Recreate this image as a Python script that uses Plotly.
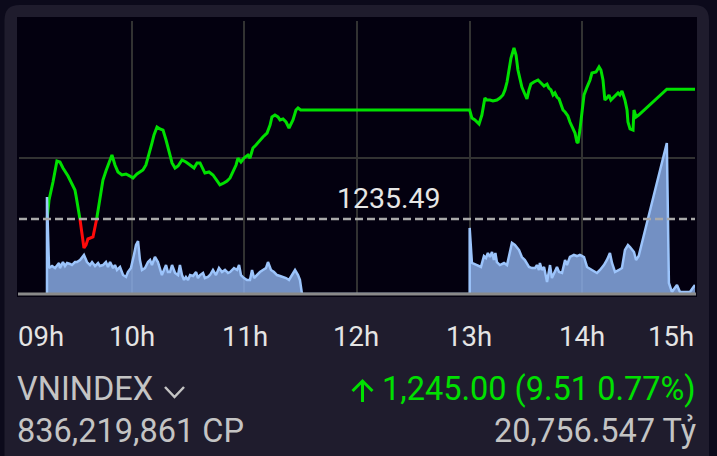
import pandas as pd
import plotly.graph_objects as go

# ---------------- DATA ----------------
REF_PRICE = 1235.49
LAST_PRICE = 1245.00
CHANGE = 9.51
CHANGE_PCT = 0.77
SYMBOL = "VNINDEX"
TOTAL_VOLUME = "836,219,861 CP"
TOTAL_VALUE = "20,756.547 Tỷ"
TICK_LABELS = ["09h", "10h", "11h", "12h", "13h", "14h", "15h"]

# minutes after 09:00
price_min = [14.9, 16.0, 18.1, 20.2, 21.8, 23.4, 26.1, 28.2, 29.8, 30.4, 31.4, 32.5, 34.6, 35.7, 36.7,
             39.4, 40.5, 41.5, 43.1, 44.7, 46.3, 47.9, 49.5, 51.1, 52.7, 54.8, 57.0, 59.1, 60.7,
             62.8, 64.4, 66.0, 67.6, 69.2, 70.8, 71.9, 73.5, 75.1, 76.7, 78.3, 79.9, 81.5, 83.1,
             84.7, 86.8, 88.9, 91.1, 93.2, 94.8, 96.4, 99.0, 101.2, 103.3, 105.4, 107.0, 109.1,
             110.8, 112.4, 113.9, 115.6, 116.6, 118.2, 119.8, 121.9, 123.0, 124.6, 126.2, 128.3,
             129.9, 132.1, 133.7, 134.7, 136.3, 137.9, 139.0, 140.6, 142.2, 143.8, 145.9, 147.5,
             148.6, 150.0,
             240.0, 241.2, 242.8, 245.0, 246.5, 248.1, 249.2, 250.8, 252.4, 254.5, 256.1, 257.7,
             258.8, 259.9, 260.9, 262.0, 263.6, 264.7, 265.7, 266.8, 267.8, 268.9, 270.5, 271.6,
             272.6, 274.2, 276.4, 278.0, 279.6, 281.2, 282.2, 283.3, 284.4, 285.4, 286.5, 287.6,
             288.6, 289.7, 290.8, 292.3, 293.4, 294.5, 296.1, 297.1, 297.7, 298.7, 299.8, 300.9,
             302.5, 304.1, 305.1, 307.3, 308.9, 309.9, 311.0, 312.0, 313.1, 314.2, 315.2, 316.3,
             317.4, 319.0, 320.0, 321.1, 322.7, 323.8, 324.3, 325.4, 327.0, 327.5, 328.6, 330.0,
             345.0, 360.0]
price_val = [1235.40, 1236.89, 1238.20, 1239.74, 1239.67, 1239.23, 1238.64, 1237.99, 1237.62, 1237.18,
             1236.37, 1235.45, 1233.37, 1233.60, 1234.03, 1234.18, 1234.84, 1235.60, 1236.89, 1238.35,
             1239.01, 1239.60, 1240.18, 1239.45, 1238.94, 1238.72, 1238.79, 1238.64, 1238.50, 1238.79,
             1238.94, 1239.08, 1239.45, 1240.18, 1241.06, 1241.65, 1242.23, 1242.09, 1242.01, 1241.28,
             1240.40, 1239.60, 1239.23, 1239.38, 1239.82, 1239.67, 1239.45, 1239.23, 1239.60, 1239.60,
             1238.86, 1238.94, 1238.72, 1238.35, 1237.99, 1238.13, 1238.28, 1238.50, 1238.94, 1239.45,
             1239.96, 1239.67, 1239.96, 1240.18, 1239.96, 1240.70, 1240.92, 1241.28, 1241.50, 1241.79,
             1242.38, 1242.97, 1243.11, 1242.97, 1242.75, 1242.82, 1242.60, 1242.16, 1242.75, 1243.48,
             1243.63, 1243.48,
             1243.48, 1242.89, 1242.75, 1242.45, 1243.11, 1244.36, 1244.21, 1244.21, 1244.14, 1244.21,
             1244.36, 1244.58, 1244.95, 1245.53, 1246.41, 1247.29, 1248.02, 1247.51, 1246.41, 1245.68,
             1245.16, 1244.80, 1244.29, 1244.95, 1245.38, 1245.53, 1245.68, 1245.46, 1245.24, 1245.38,
             1245.09, 1244.95, 1244.58, 1244.73, 1244.43, 1244.29, 1243.85, 1243.48, 1243.33, 1243.04,
             1242.60, 1242.23, 1241.79, 1241.14, 1241.06, 1242.01, 1243.48, 1244.58, 1245.16, 1245.68,
             1246.19, 1246.26, 1246.63, 1246.41, 1245.68, 1244.21, 1244.36, 1244.58, 1244.21, 1244.36,
             1244.51, 1244.73, 1244.58, 1244.87, 1244.21, 1243.48, 1242.60, 1242.09, 1242.01, 1243.48,
             1242.97, 1243.11, 1245.00, 1245.00]

# volume (million shares), minutes after 09:00
vol_min = [14.9, 14.9, 16.0, 17.6, 19.2, 20.2, 21.3, 21.8, 22.9, 23.4, 24.5, 25.6, 27.2, 28.2, 29.8,
           30.9, 32.5, 33.5, 34.6, 36.2, 37.8, 38.9, 40.5, 42.1, 43.1, 44.7, 46.3, 47.4, 48.5, 50.1,
           51.1, 52.2, 53.8, 55.4, 57.0, 58.0, 59.6, 61.2, 62.3, 63.4, 64.4, 65.5, 67.1, 68.7, 69.8,
           70.8, 72.4, 74.0, 75.1, 76.1, 77.2, 78.3, 79.3, 80.4, 81.5, 83.1, 84.7, 85.7, 86.8, 87.9,
           88.9, 90.0, 91.1, 92.7, 94.3, 95.3, 96.4, 98.0, 99.0, 100.6, 101.7, 103.3, 104.9, 106.5,
           108.1, 109.7, 111.3, 112.4, 114.5, 116.1, 117.2, 118.2, 119.8, 121.4, 123.0, 124.1, 125.2,
           126.7, 128.3, 129.9, 131.5, 132.6, 134.2, 135.8, 137.4, 139.0, 140.6, 142.2, 143.8, 145.4,
           147.0, 148.6, 149.6, 150.7,
           240.0, 240.0, 241.2, 243.9, 246.0, 247.6, 248.7, 249.7, 250.8, 251.9, 252.9, 253.7, 254.5,
           256.1, 258.3, 259.9, 261.5, 262.5, 264.1, 266.3, 267.8, 269.4, 271.6, 273.2, 274.8, 275.8,
           276.9, 277.4, 278.5, 279.6, 281.2, 282.2, 282.8, 283.8, 284.9, 286.5, 287.6, 289.2, 290.8,
           291.8, 293.4, 295.5, 297.1, 298.7, 300.9, 302.5, 305.1, 307.8, 309.4, 311.5, 313.1, 314.7,
           315.8, 317.4, 319.5, 321.1, 322.7, 324.3, 325.4, 327.5, 328.6, 330.0, 345.0, 346.1, 347.7,
           350.4, 352.0, 357.3, 358.9, 360.0]
vol_val = [0.0, 7.11, 1.90, 2.05, 1.90, 2.12, 2.27, 1.90, 2.20, 2.34, 2.05, 2.27, 2.20, 2.12, 2.34,
           2.34, 2.49, 2.64, 2.86, 2.34, 2.12, 2.34, 2.05, 2.27, 2.05, 2.12, 2.34, 1.98, 2.34, 1.90,
           2.12, 1.76, 1.98, 1.39, 1.25, 1.61, 1.90, 2.86, 3.59, 3.88, 2.49, 1.76, 1.90, 2.34, 2.49,
           2.12, 2.71, 2.34, 1.90, 1.39, 1.76, 2.12, 1.61, 1.61, 2.12, 1.54, 1.39, 2.12, 1.39, 1.03,
           1.25, 1.03, 1.39, 1.32, 1.61, 1.17, 1.39, 1.54, 1.17, 1.25, 1.39, 1.76, 1.39, 1.90,
           1.61, 1.76, 1.54, 1.61, 1.90, 1.76, 2.12, 1.39, 1.17, 1.03, 1.03, 1.76, 1.17,
           1.39, 1.61, 1.76, 1.90, 2.34, 1.76, 1.61, 1.39, 1.32, 1.25, 1.17, 1.03, 1.39,
           1.76, 1.39, 1.03, 0.0,
           0.0, 4.84, 2.27, 2.12, 1.98, 2.78, 2.64, 3.00, 2.71, 3.08, 2.49, 3.00, 2.34,
           2.12, 2.27, 2.12, 3.22, 3.74, 3.59, 3.22, 2.71, 2.49, 1.98, 1.90, 1.90, 2.12,
           1.76, 2.27, 1.76, 1.98, 0.88, 1.54, 2.12, 1.17, 1.54, 1.98, 1.61, 1.54, 2.49,
           2.12, 2.71, 2.86, 2.78, 2.86, 2.71, 1.98, 1.76, 1.54, 1.76, 2.12, 2.49, 3.00,
           2.27, 1.61, 1.76, 1.90, 3.22, 3.59, 3.44, 3.08, 2.49, 2.78, 11.06, 0.81, 0.15,
           0.66, 0.15, 0.15, 0.45, 0.66]

assert len(price_min) == len(price_val)
assert len(vol_min) == len(vol_val)

# ---------------- STYLE / LAYOUT HELPERS ----------------
W, H = 717, 456
PL, PR, PT, PB = 19, 695, 21, 294  # plot area in pixels
BASE = pd.Timestamp("2024-01-02 09:00")


def tm(m):
    return BASE + pd.to_timedelta(m, unit="min")


def px(x):
    return (x - PL) / (PR - PL)


def py(y):
    return (PB - y) / (PB - PT)


def split_by_ref(ts, vs, ref):
    """Split a line into above-ref (green) and below-ref (red) runs."""
    out = {True: ([], []), False: ([], [])}
    cur = vs[0] >= ref
    out[cur][0].append(ts[0]); out[cur][1].append(vs[0])
    for i in range(1, len(vs)):
        v0, v1 = vs[i - 1], vs[i]
        t0, t1 = ts[i - 1], ts[i]
        nxt = v1 >= ref
        if nxt != cur:
            f = (ref - v0) / (v1 - v0)
            tc = t0 + (t1 - t0) * f
            out[cur][0].append(tc); out[cur][1].append(ref)
            out[cur][0].append(None); out[cur][1].append(None)
            out[nxt][0].append(tc); out[nxt][1].append(ref)
            cur = nxt
        out[cur][0].append(t1); out[cur][1].append(v1)
    return out


pt = [tm(m) for m in price_min]
vt = [tm(m) for m in vol_min]
parts = split_by_ref(pt, price_val, REF_PRICE)

GREEN = "#00e000"
fig = go.Figure()
fig.add_trace(go.Scatter(x=vt, y=vol_val, yaxis="y2", mode="lines",
                         line=dict(color="#9cc4fb", width=2.5),
                         fill="tozeroy", fillcolor="rgba(140,176,235,0.82)",
                         hoverinfo="skip", showlegend=False))
fig.add_trace(go.Scatter(x=parts[True][0], y=parts[True][1], mode="lines",
                         line=dict(color=GREEN, width=3), showlegend=False))
fig.add_trace(go.Scatter(x=parts[False][0], y=parts[False][1], mode="lines",
                         line=dict(color="#ff0a0a", width=3), showlegend=False))

OUTER = "#0c0a1b"
CARD = "#1f1c2d"
PLOTBG = "#03000f"
GRID = "#323232"
TEXT = "#c4c4c4"

# card with rounded top corners (pixel coords converted to paper)
cx0, cy0, cx1, cy1, r = 4.5, 5, 709, 500, 15
card_path = (
    f"M {px(cx0 + r)},{py(cy0)} L {px(cx1 - r)},{py(cy0)} "
    f"Q {px(cx1)},{py(cy0)} {px(cx1)},{py(cy0 + r)} L {px(cx1)},{py(cy1)} "
    f"L {px(cx0)},{py(cy1)} L {px(cx0)},{py(cy0 + r)} "
    f"Q {px(cx0)},{py(cy0)} {px(cx0 + r)},{py(cy0)} Z"
)
shapes = [
    dict(type="path", path=card_path, xref="paper", yref="paper",
         fillcolor=CARD, line=dict(width=0), layer="below"),
    dict(type="rect", xref="paper", yref="paper", x0=px(17), x1=px(697), y0=py(297), y1=py(17),
         fillcolor=PLOTBG, line=dict(width=0), layer="below"),
    # reference line
    dict(type="line", xref="paper", yref="y", x0=0, x1=1, y0=REF_PRICE, y1=REF_PRICE,
         line=dict(color="#a9a9a9", width=2.5, dash="8px,4px"), layer="above"),
    # bottom axis line
    dict(type="line", xref="paper", yref="paper", x0=px(18), x1=px(696), y0=0, y1=0,
         line=dict(color="#8a8a8a", width=3), layer="above"),
    # chevron after symbol
    dict(type="path", xref="paper", yref="paper",
         path=f"M {px(165)},{py(387)} L {px(174.5)},{py(397)} L {px(184)},{py(387)}",
         line=dict(color=TEXT, width=2.5)),
    # up arrow before last price
    dict(type="path", xref="paper", yref="paper",
         path=(f"M {px(362.5)},{py(402)} L {px(362.5)},{py(381)} "
               f"M {px(352.5)},{py(391)} L {px(362.5)},{py(381)} L {px(372.5)},{py(391)}"),
         line=dict(color=GREEN, width=3)),
]

annotations = []
tick_pos = [16, 131.5, 244.5, 356, 468.5, 581.5, 696]
for i, (lab, xp) in enumerate(zip(TICK_LABELS, tick_pos)):
    anchor = "left" if i == 0 else ("right" if i == len(TICK_LABELS) - 1 else "center")
    annotations.append(dict(text=lab, x=px(xp), y=py(337), xref="paper", yref="paper",
                            xanchor=anchor, yanchor="middle", showarrow=False,
                            font=dict(family="Roboto", size=27.5, color="#e4e4e4")))

annotations += [
    dict(text=f"{REF_PRICE:.2f}", x=px(389), y=py(198.5), xref="paper", yref="paper",
         xanchor="center", yanchor="middle", showarrow=False,
         font=dict(family="Roboto", size=28.5, color="#e6e6e6")),
    dict(text=SYMBOL, x=px(15), y=py(388.5), xref="paper", yref="paper",
         xanchor="left", yanchor="middle", showarrow=False,
         font=dict(family="Roboto", size=32.5, color=TEXT)),
    dict(text=TOTAL_VOLUME, x=px(15), y=py(430.5), xref="paper", yref="paper",
         xanchor="left", yanchor="middle", showarrow=False,
         font=dict(family="Roboto", size=32.5, color=TEXT)),
    dict(text=f"{LAST_PRICE:,.2f} ({CHANGE:.2f} {CHANGE_PCT:.2f}%)", x=px(698), y=py(388.5),
         xref="paper", yref="paper", xanchor="right", yanchor="middle", showarrow=False,
         font=dict(family="Roboto", size=32.5, color=GREEN)),
    dict(text=TOTAL_VALUE, x=px(698), y=py(430.5), xref="paper", yref="paper",
         xanchor="right", yanchor="middle", showarrow=False,
         font=dict(family="Roboto", size=32.5, color=TEXT)),
]

fig.update_layout(
    width=W, height=H,
    margin=dict(l=PL, r=W - PR, t=PT, b=H - PB),
    paper_bgcolor=OUTER, plot_bgcolor="rgba(0,0,0,0)",
    showlegend=False,
    xaxis=dict(type="date", range=[tm(0), tm(360)], showticklabels=False,
               tick0=tm(0), dtick=3600000, showgrid=True, gridcolor=GRID, gridwidth=2,
               zeroline=False, showline=False, ticks=""),
    yaxis=dict(range=[1230, 1250], dtick=10, tick0=1230, showticklabels=False, showgrid=True,
               gridcolor=GRID, gridwidth=2, zeroline=False, showline=False, ticks=""),
    yaxis2=dict(range=[0, 20], overlaying="y", showticklabels=False, showgrid=False,
                zeroline=False, showline=False),
    shapes=shapes,
    annotations=annotations,
)

fig.write_html("out.html",
               config={"displayModeBar": False},
               post_script="document.body.style.margin='0';"
                           "document.body.style.background='" + OUTER + "';")
